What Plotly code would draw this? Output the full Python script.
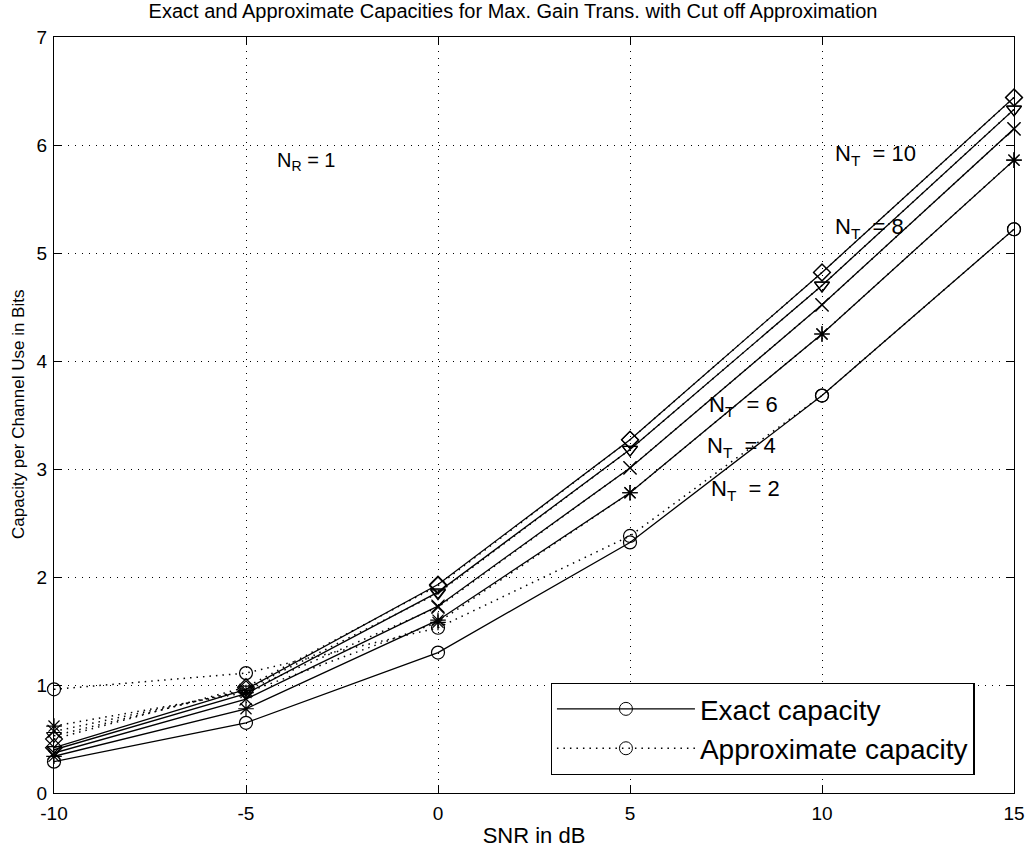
import plotly.graph_objects as go

snr = [-10, -5, 0, 5, 10, 15]
nt_labels = ["2", "4", "6", "8", "10"]
symbols = ["circle-open", "asterisk-open", "x-thin-open", "triangle-down-open", "diamond-open"]

exact = {
    "2": [0.29, 0.65, 1.30, 2.32, 3.68, 5.22],
    "4": [0.34, 0.78, 1.60, 2.78, 4.25, 5.86],
    "6": [0.37, 0.87, 1.73, 3.01, 4.52, 6.15],
    "8": [0.40, 0.92, 1.86, 3.18, 4.70, 6.33],
    "10": [0.42, 0.96, 1.93, 3.27, 4.82, 6.44],
}
approx = {
    "2": [0.96, 1.11, 1.53, 2.38, 3.68, 5.22],
    "4": [0.62, 0.93, 1.58, 2.78, 4.25, 5.86],
    "6": [0.57, 0.95, 1.72, 3.01, 4.52, 6.15],
    "8": [0.53, 0.96, 1.85, 3.18, 4.70, 6.33],
    "10": [0.50, 0.98, 1.92, 3.27, 4.82, 6.44],
}

x_ticks = [-10, -5, 0, 5, 10, 15]
x_ticktext = ["-10", "-5", "0", "5", "10", "15"]
y_ticks = [0, 1, 2, 3, 4, 5, 6, 7]

FONT = "Liberation Sans, Arial, sans-serif"
DOT = "1.5px,5px"

fig = go.Figure()
for nt, sym in zip(nt_labels, symbols):
    fig.add_trace(go.Scatter(
        x=snr, y=exact[nt], mode="lines+markers",
        line=dict(color="black", width=1.3, dash="solid"),
        marker=dict(symbol=sym, size=13, color="black", line=dict(width=1.2, color="black")),
        showlegend=False, cliponaxis=False))
    fig.add_trace(go.Scatter(
        x=snr, y=approx[nt], mode="lines+markers",
        line=dict(color="black", width=1.5, dash=DOT),
        marker=dict(symbol=sym, size=13, color="black", line=dict(width=1.2, color="black")),
        showlegend=False, cliponaxis=False))

# legend entries
fig.add_trace(go.Scatter(x=[None], y=[None], mode="lines+markers", name="Exact capacity",
                         line=dict(color="black", width=1.3),
                         marker=dict(symbol="circle-open", size=13, color="black")))
fig.add_trace(go.Scatter(x=[None], y=[None], mode="lines+markers", name="Approximate capacity",
                         line=dict(color="black", width=1.5, dash=DOT),
                         marker=dict(symbol="circle-open", size=13, color="black")))

annots = [
    (-4.24, 5.85, "N<sub>R</sub> = 1", 20),
    (10.29, 5.91, "N<sub>T</sub>  = 10", 22),
    (10.29, 5.23, "N<sub>T</sub>  = 8", 22),
    (7.0, 3.58, "N<sub>T</sub>  = 6", 22),
    (6.95, 3.20, "N<sub>T</sub>  = 4", 22),
    (7.06, 2.81, "N<sub>T</sub>  = 2", 22),
]
for ax, ay, t, s in annots:
    fig.add_annotation(x=ax, y=ay, text=t, showarrow=False, xanchor="left", yanchor="middle",
                       font=dict(family=FONT, size=s, color="black"))

# y-axis title as rotated annotation (placed like the reference)
fig.add_annotation(x=-0.0375, y=0.5, xref="paper", yref="paper", text="Capacity per Channel Use in Bits",
                   textangle=-90, showarrow=False, xanchor="center", yanchor="middle",
                   font=dict(family=FONT, size=17, color="black"))

axis_common = dict(
    showline=True, linecolor="black", linewidth=1.3, mirror="ticks",
    ticks="inside", ticklen=8, tickcolor="black", tickwidth=1,
    showgrid=True, gridcolor="black", gridwidth=1, griddash="1px,6px",
    zeroline=False, tickfont=dict(family=FONT, size=19, color="black"),
    ticklabeloverflow="allow", automargin=False,
)

fig.update_layout(
    width=1026, height=850,
    margin=dict(l=54, r=12, t=37, b=57),
    paper_bgcolor="white", plot_bgcolor="white",
    title=dict(text="Exact and Approximate Capacities for Max. Gain Trans. with Cut off Approximation",
               x=0.5, xanchor="center", y=0.995, yanchor="top",
               font=dict(family=FONT, size=20, color="black")),
    xaxis=dict(range=[-10, 15], tickvals=x_ticks, ticktext=x_ticktext, ticklabelstandoff=3,
               title=dict(text="SNR in dB", font=dict(family=FONT, size=22, color="black"), standoff=4),
               **axis_common),
    yaxis=dict(range=[0, 7], tickvals=y_ticks, ticklabelstandoff=2,
               **axis_common),
    legend=dict(x=0.959, y=0.024, xanchor="right", yanchor="bottom",
                bgcolor="white", bordercolor="black", borderwidth=1.3,
                font=dict(family=FONT, size=28, color="black"),
                itemwidth=138, tracegroupgap=0),
)

fig.write_html("out.html")
